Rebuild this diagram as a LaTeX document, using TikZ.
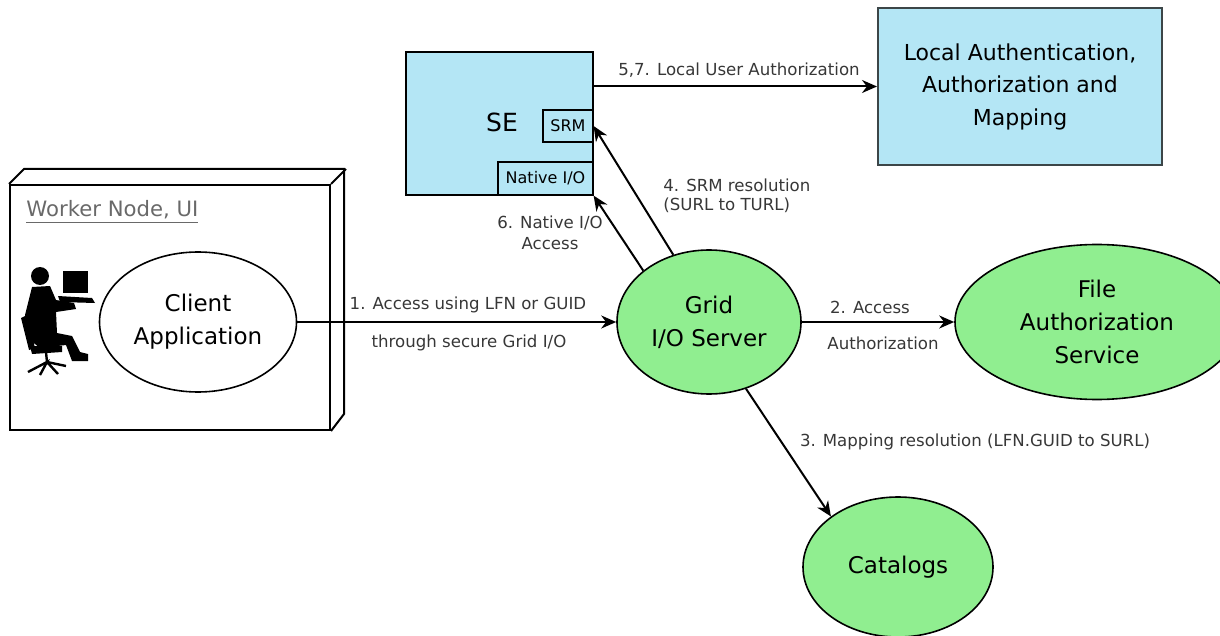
\documentclass[tikz,border=0pt]{standalone}
\usepackage{fontspec}
\setmainfont{DejaVu Sans}
\usetikzlibrary{arrows.meta,positioning,shapes.geometric}
\definecolor{gridgreen}{RGB}{144,238,144}
\definecolor{seblue}{RGB}{180,230,245}
\definecolor{lblgray}{RGB}{55,55,55}
\definecolor{wngray}{RGB}{105,105,105}
\definecolor{boxedge}{RGB}{60,70,72}
\tikzset{
  svc/.style={ellipse, draw, line width=0.8pt, fill=gridgreen, align=center, inner sep=0pt,
    font=\fontsize{11.5}{16.5}\selectfont},
  app/.style={svc, fill=white},
  sebox/.style={rectangle, draw, fill=seblue, inner sep=0pt},
  lbl/.style={text=lblgray, font=\fontsize{8.3}{9.5}\selectfont, inner sep=0pt, align=center},
  flow/.style={->, line width=1pt},
}

\begin{document}
\begin{tikzpicture}[x=0.5pt, y=-0.5pt, >={Stealth[length=7.5pt,width=6.5pt]}]
  \useasboundingbox (0,0) rectangle (1220,636);

  % worker node (3d box)
  \node[draw, line width=1pt, minimum width=160pt, minimum height=122.5pt, inner sep=0pt] (wn) at (170,307.5) {};
  \draw[line width=1pt] (wn.north west) -- ++(15,-15) -- ++(320,0) -- ++(0,245) -- (wn.south east);
  \draw[line width=1pt] (wn.north east) -- ++(15,-15);
  \node[text=wngray, font=\fontsize{10.6}{12}\selectfont, anchor=west, inner sep=0pt] (wnlbl) at (26,212) {\underline{Worker Node, UI}};

  % user at the terminal
  \fill (40,276) circle (9);
  \fill (32,287) -- (50,286) -- (56,300) -- (74,303) -- (76,309) -- (56,312) -- (57,333) -- (72,336)
        -- (80,352) -- (88,354) -- (88,361) -- (72,361) -- (66,345) -- (40,348) -- (30,340) -- (25,315) -- cycle;
  \fill (21,318) -- (27,315) -- (35,348) -- (29,350) -- cycle;
  \fill (30,346) -- (62,346) -- (62,352) -- (32,354) -- cycle;
  \draw[line width=1.2pt] (46,352) -- (47,362) (28,372) -- (47,362) -- (40,375) (47,362) -- (58,374) (47,362) -- (66,366);
  \fill (63,271) rectangle (88,293);
  \fill (58,296) -- (92,298) -- (95,303) -- (60,302) -- cycle;

  % nodes
  \node[app, minimum width=98.5pt, minimum height=70pt] (client) at (198,322) {Client\\Application};
  \node[svc, minimum width=92pt, minimum height=72pt] (grid) at (709,322) {Grid\\I/O Server};
  \node[svc, minimum width=142pt, minimum height=77.5pt] (fas) at (1097,322) {File\\Authorization\\Service};
  \node[svc, minimum width=95pt, minimum height=70pt] (cat) at (898,567) {Catalogs};

  \node[sebox, line width=1pt, minimum width=93.5pt, minimum height=71.5pt] (se) at (499.5,123.5) {};
  \node[font=\fontsize{12.5}{14}\selectfont] (setxt) at (502,122) {SE};
  \node[sebox, line width=0.6pt, minimum width=25pt, minimum height=16pt, font=\fontsize{8}{9}\selectfont] (srm) at (568,126) {SRM};
  \node[sebox, line width=0.6pt, minimum width=47.5pt, minimum height=16.5pt, font=\fontsize{8}{9}\selectfont] (nio) at (545.5,178.5) {Native I/O};
  \node[sebox, draw=boxedge, line width=1pt, minimum width=142pt, minimum height=78.5pt, align=center,
        font=\fontsize{11}{16.25}\selectfont] (local) at (1020,86.5) {Local Authentication,\\Authorization and\\Mapping};

  % connectors
  \draw[flow] (se.east |- local.west) -- (local.west);
  \draw[flow] (client.east) -- (grid.west);
  \draw[flow] (grid.east) -- (fas.west);
  \draw[flow] (grid.299) -- (cat.143);
  \draw[flow] (grid.118) -- (srm.east);
  \draw[flow] (grid.142) -- (nio.south east);

  % labels
  \node[lbl] (l57) at (739,70) {5,7. Local User Authorization};
  \node[lbl] (l1a) at (468,305) {1. Access using LFN or GUID};
  \node[lbl] (l1b) at (469,343) {through secure Grid I/O};
  \node[lbl] (l2a) at (870,307) {2. Access};
  \node[lbl] (l2b) at (883,343) {Authorization};
  \node[lbl] (l3) at (975,442) {3. Mapping resolution (LFN.GUID to SURL)};
  \node[lbl, align=left, anchor=west] (l4) at (663,196) {4. SRM resolution\\(SURL to TURL)};
  \node[lbl, font=\fontsize{8.3}{10.5}\selectfont] (l6) at (550,233) {6. Native I/O\\Access};
\end{tikzpicture}
\end{document}
